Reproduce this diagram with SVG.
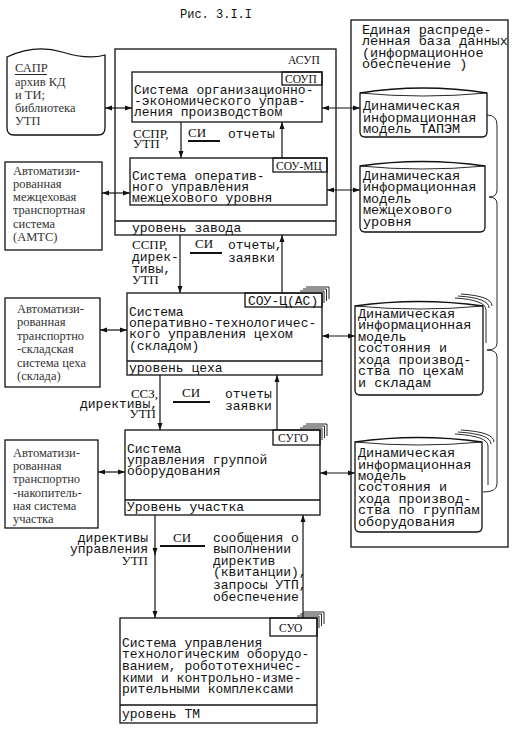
<svg xmlns="http://www.w3.org/2000/svg" width="519" height="732" viewBox="0 0 519 732">
<defs>
<style>
.b{fill:none;stroke:#111;stroke-width:1.3}
.w{fill:#fff;stroke:#111;stroke-width:1.3}
.c{fill:none;stroke:#111;stroke-width:1.2}
.t{stroke:#111;stroke-width:0.9;fill:none}
.m{font-family:"Liberation Mono","DejaVu Sans Mono",monospace;font-size:13px;fill:#111}
.d{font-family:"Liberation Mono","DejaVu Sans Mono",monospace;font-size:13.5px;fill:#111}
.s{font-family:"Liberation Serif","DejaVu Serif",serif;font-size:12.5px;fill:#333}
.k{font-family:"Liberation Serif","DejaVu Serif",serif;font-size:13px;fill:#111}
.u{stroke:#111;stroke-width:2;fill:none}
</style>
<marker id="ah" markerUnits="userSpaceOnUse" markerWidth="8" markerHeight="6" refX="7" refY="3" orient="auto-start-reverse"><path d="M0,0.5 L7,3 L0,5.5 z" fill="#111"/></marker>
</defs>

<text class="m" x="180" y="18" style="font-size:12px">Рис. 3.I.I</text>

<g id="sapr">
<path class="b" d="M7,57 Q35,44 62,52 Q88,60 105,55 L105,128 Q105,135 98,135 L14,135 Q7,135 7,128 Z"/>
<text class="s"><tspan x="15" y="72">САПР</tspan><tspan x="15" y="86">архив КД</tspan><tspan x="15" y="99">и ТИ;</tspan><tspan x="15" y="112">библиотека</tspan><tspan x="15" y="125">УТП</tspan></text>
<line class="t" x1="15" y1="74.5" x2="47" y2="74.5"/>
</g>

<g id="asup">
<rect class="b" x="115" y="49" width="221" height="186"/>
<line class="b" x1="115" y1="221" x2="336" y2="221"/>
<text class="k" x="288" y="64" style="font-size:11.5px">АСУП</text>
<text class="m" x="132" y="232">уровень завода</text>
</g>

<g id="soup">
<rect class="b" x="132" y="72" width="190" height="50"/>
<rect class="b" x="282" y="72" width="40" height="13"/>
<text class="k" x="285" y="83" style="font-size:11.5px">СОУП</text>
<text class="m"><tspan x="134" y="94">Система организационно-</tspan><tspan x="134" y="105">-экономического управ-</tspan><tspan x="134" y="116">ления производством</tspan></text>
</g>

<g id="soumc">
<rect class="b" x="130" y="158" width="197" height="47"/>
<rect class="b" x="273" y="158" width="54" height="14"/>
<text class="k" x="276" y="169.5" style="font-size:11.5px">СОУ-МЦ</text>
<text class="m"><tspan x="132" y="180">Система оператив-</tspan><tspan x="132" y="191">ного управления</tspan><tspan x="132" y="202">межцехового уровня</tspan></text>
</g>

<g id="amts">
<rect class="b" x="5" y="162" width="97" height="88"/>
<text class="s"><tspan x="13" y="175">Автоматизи-</tspan><tspan x="13" y="188">рованная</tspan><tspan x="13" y="201">межцеховая</tspan><tspan x="13" y="214">транспортная</tspan><tspan x="13" y="228">система</tspan><tspan x="13" y="241">(АМТС)</tspan></text>
</g>

<g id="souc">
<path class="t" d="M300,291 L324,291 L324,303 M303,289 L326.5,289 L326.5,301 M306,287 L329,287 L329,299"/>
<rect class="w" x="127" y="293" width="195" height="82"/>
<line class="b" x1="127" y1="361" x2="322" y2="361"/>
<rect class="b" x="245" y="293" width="77" height="14"/>
<text class="m" x="248" y="305">СОУ-Ц(АС)</text>
<text class="m"><tspan x="129" y="316">Система</tspan><tspan x="129" y="327">оперативно-технологичес-</tspan><tspan x="129" y="338">кого управления цехом</tspan><tspan x="129" y="350">(складом)</tspan></text>
<text class="m" x="129" y="372">уровень цеха</text>
</g>

<g id="atsc">
<rect class="b" x="5" y="298" width="95" height="89"/>
<text class="s"><tspan x="17" y="313">Автоматизи-</tspan><tspan x="17" y="326">рованная</tspan><tspan x="17" y="340">транспортно</tspan><tspan x="17" y="353">-складская</tspan><tspan x="17" y="367">система цеха</tspan><tspan x="17" y="380">(склада)</tspan></text>
</g>

<g id="sugo">
<path class="t" d="M300,428 L322,428 L322,440 M303,426 L324.5,426 L324.5,438 M306,424 L327,424 L327,436"/>
<rect class="w" x="125" y="430" width="195" height="85"/>
<line class="b" x1="125" y1="500" x2="320" y2="500"/>
<rect class="b" x="273" y="430" width="47" height="15"/>
<text class="k" x="278" y="442" style="font-size:11.5px">СУГО</text>
<text class="m"><tspan x="127" y="453">Система</tspan><tspan x="127" y="464">управления группой</tspan><tspan x="127" y="475">оборудования</tspan></text>
<text class="m" x="127" y="511">Уровень участка</text>
</g>

<g id="ansu">
<rect class="b" x="5" y="440" width="93" height="88"/>
<text class="s"><tspan x="13" y="457">Автоматизи-</tspan><tspan x="13" y="470">рованная</tspan><tspan x="13" y="483">транспортно</tspan><tspan x="13" y="497">-накопитель-</tspan><tspan x="13" y="510">ная система</tspan><tspan x="13" y="523">участка</tspan></text>
</g>

<g id="suo">
<path class="t" d="M297,616 L319,616 L319,628 M300,614 L321.5,614 L321.5,626 M303,612 L324,612 L324,624"/>
<rect class="w" x="120" y="618" width="197" height="105"/>
<line class="b" x1="120" y1="705" x2="317" y2="705"/>
<rect class="b" x="270" y="618" width="47" height="18"/>
<text class="k" x="279" y="632" style="font-size:11.5px">СУО</text>
<text class="m"><tspan x="122" y="647">Система управления</tspan><tspan x="122" y="658">технологическим оборудо-</tspan><tspan x="122" y="670">ванием, робототехничес-</tspan><tspan x="122" y="682">кими и контрольно-изме-</tspan><tspan x="122" y="693">рительными комплексами</tspan></text>
<text class="m" x="122" y="718">уровень ТМ</text>
</g>

<g id="db">
<rect class="b" x="351" y="20" width="157" height="527"/>
<text class="d"><tspan x="362" y="34">Единая распреде-</tspan><tspan x="362" y="45">ленная база данных</tspan><tspan x="362" y="57">(информационное</tspan><tspan x="362" y="68">обеспечение )</tspan></text>
<path class="t" d="M487,115 Q497,115 497,125 L497,190 Q497,197 489,197 Q497,197 497,204 L497,343 Q497,350 487,350 Q497,350 497,357 L497,484 Q497,492 483,492"/>
</g>

<g id="cyl1">
<path class="w" d="M360,93 Q423,83 487,93 L487,132 Q487,137 482,137 L365,137 Q360,137 360,132 Z"/>
<path class="t" d="M360,93 Q423,99 487,93"/>
<text class="d"><tspan x="363" y="110">Динамическая</tspan><tspan x="363" y="122">информационная</tspan><tspan x="363" y="133">модель ТАПЭМ</tspan></text>
</g>

<g id="cyl2">
<path class="w" d="M360,166 Q422,157 485,166 L485,227 Q485,232 480,232 L365,232 Q360,232 360,227 Z"/>
<path class="t" d="M360,166 Q422,172 485,166"/>
<text class="d"><tspan x="363" y="180">Динамическая</tspan><tspan x="363" y="191">информационная</tspan><tspan x="363" y="203">модель</tspan><tspan x="363" y="214">межцехового</tspan><tspan x="363" y="226">уровня</tspan></text>
</g>

<g id="cyl3">
<path class="t" d="M455,298 Q486,300 486,310 L486,343 M458,296 Q489,298 489,308 M461,294 Q492,296 492,306"/>
<path class="w" d="M355,306 Q419,297 483,306 L483,390 Q483,395 478,395 L360,395 Q355,395 355,390 Z"/>
<path class="t" d="M355,306 Q419,312 483,306"/>
<text class="d"><tspan x="358" y="318">Динамическая</tspan><tspan x="358" y="329">информационная</tspan><tspan x="358" y="341">модель</tspan><tspan x="358" y="352">состояния и</tspan><tspan x="358" y="364">хода производ-</tspan><tspan x="358" y="375">ства по цехам</tspan><tspan x="358" y="387">и складам</tspan></text>
</g>

<g id="cyl4">
<path class="t" d="M455,434 Q488,436 488,446 L488,485 M458,432 Q491,434 491,444 M461,430 Q494,432 494,442"/>
<path class="w" d="M355,442 Q418,433 482,442 L482,527 Q482,532 477,532 L360,532 Q355,532 355,527 Z"/>
<path class="t" d="M355,442 Q418,448 482,442"/>
<text class="d"><tspan x="358" y="457">Динамическая</tspan><tspan x="358" y="469">информационная</tspan><tspan x="358" y="480">модель</tspan><tspan x="358" y="491">состояния и</tspan><tspan x="358" y="503">хода производ-</tspan><tspan x="358" y="514">ства по группам</tspan><tspan x="358" y="526">оборудования</tspan></text>
</g>

<g id="connectors">
<line class="c" x1="105" y1="108" x2="132" y2="108" marker-start="url(#ah)" marker-end="url(#ah)"/>
<line class="c" x1="322" y1="108" x2="360" y2="108" marker-start="url(#ah)" marker-end="url(#ah)"/>
<line class="c" x1="102" y1="193" x2="130" y2="193" marker-start="url(#ah)" marker-end="url(#ah)"/>
<line class="c" x1="327" y1="190" x2="360" y2="190" marker-start="url(#ah)" marker-end="url(#ah)"/>
<line class="c" x1="100" y1="330" x2="127" y2="330" marker-start="url(#ah)" marker-end="url(#ah)"/>
<line class="c" x1="322" y1="336" x2="355" y2="336" marker-start="url(#ah)" marker-end="url(#ah)"/>
<line class="c" x1="98" y1="472" x2="125" y2="472" marker-start="url(#ah)" marker-end="url(#ah)"/>
<line class="c" x1="320" y1="473" x2="355" y2="473" marker-start="url(#ah)" marker-end="url(#ah)"/>

<line class="c" x1="181" y1="122" x2="181" y2="158" marker-end="url(#ah)"/>
<line class="c" x1="282" y1="158" x2="282" y2="122" marker-end="url(#ah)"/>
<line class="c" x1="180" y1="235" x2="180" y2="293" marker-end="url(#ah)"/>
<line class="c" x1="282" y1="293" x2="282" y2="235" marker-end="url(#ah)"/>
<line class="c" x1="160" y1="375" x2="160" y2="430" marker-end="url(#ah)"/>
<line class="c" x1="277" y1="430" x2="277" y2="375" marker-end="url(#ah)"/>
<line class="c" x1="155" y1="515" x2="155" y2="555" marker-end="url(#ah)"/>
<line class="c" x1="155" y1="553" x2="155" y2="618" marker-end="url(#ah)"/>
<line class="c" x1="303" y1="618" x2="303" y2="515" marker-end="url(#ah)"/>

<text class="k"><tspan x="133" y="138">ССПР,</tspan><tspan x="133" y="148">УТП</tspan></text>
<text class="k" x="188" y="137">СИ</text>
<line class="u" x1="188" y1="141" x2="220" y2="141"/>
<text class="m" x="228" y="138">отчеты</text>

<text class="k"><tspan x="132" y="249">ССПР,</tspan><tspan class="m" x="132" y="261">дирек-</tspan><tspan class="m" x="132" y="273">тивы,</tspan><tspan x="132" y="284">УТП</tspan></text>
<text class="k" x="195" y="248">СИ</text>
<line class="u" x1="190" y1="253" x2="222" y2="253"/>
<text class="m"><tspan x="228" y="249">отчеты,</tspan><tspan x="228" y="262">заявки</tspan></text>

<text class="k" text-anchor="end"><tspan x="158" y="398">ССЗ,</tspan><tspan class="m" x="158" y="408">директивы,</tspan><tspan x="156" y="418">УТП</tspan></text>
<text class="k" x="182" y="397">СИ</text>
<line class="u" x1="173" y1="402" x2="210" y2="402"/>
<text class="m"><tspan x="225" y="398">отчеты</tspan><tspan x="225" y="410">заявки</tspan></text>

<text class="m" text-anchor="end"><tspan x="148" y="542">директивы</tspan><tspan x="148" y="553">управления</tspan><tspan class="k" x="148" y="565">УТП</tspan></text>
<text class="k" x="173" y="542">СИ</text>
<line class="u" x1="160" y1="546" x2="205" y2="546"/>
<text class="m"><tspan x="213" y="542">сообщения о</tspan><tspan x="213" y="553">выполнении</tspan><tspan x="213" y="565">директив</tspan><tspan x="213" y="576">(квитанции),</tspan><tspan x="213" y="589">запросы УТП,</tspan><tspan x="213" y="601">обеспечение</tspan></text>
</g>
</svg>
